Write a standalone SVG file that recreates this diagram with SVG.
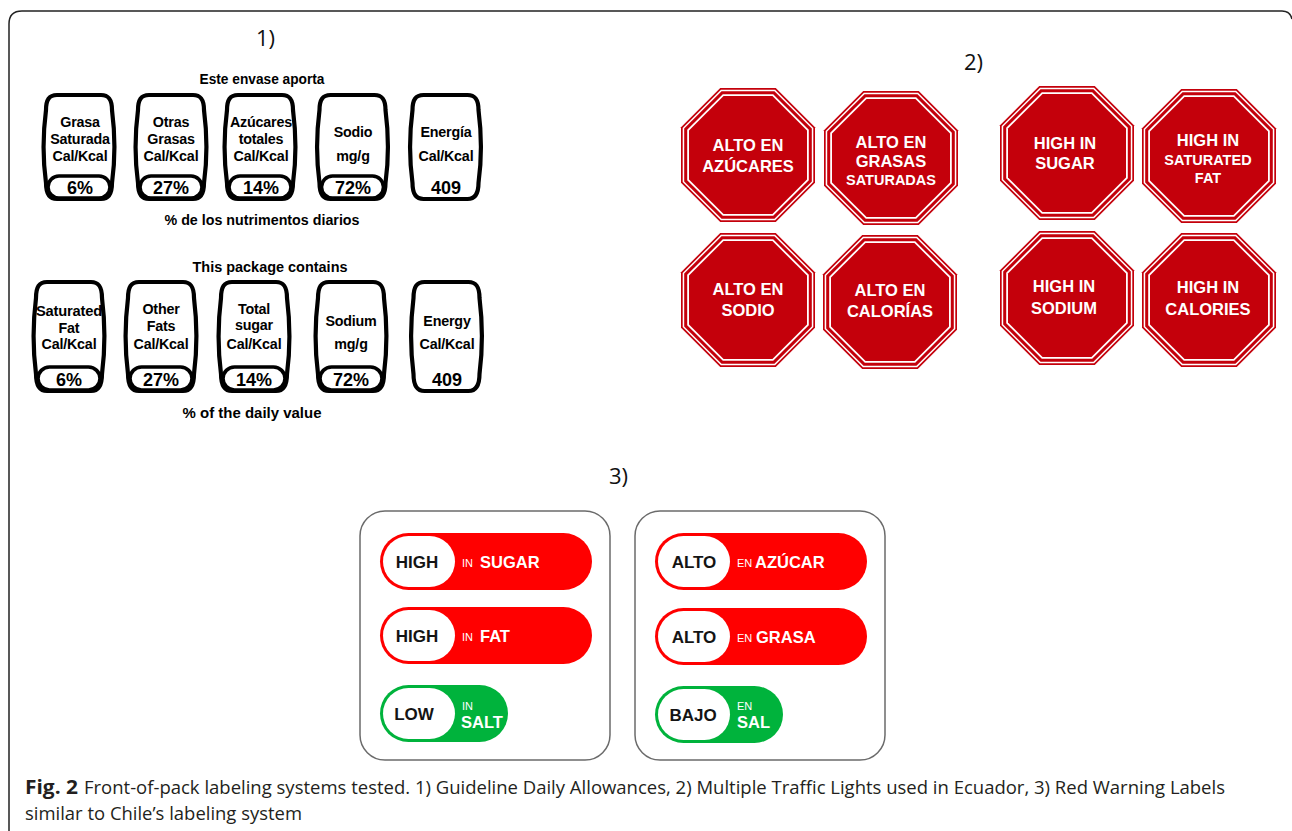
<svg xmlns="http://www.w3.org/2000/svg" xmlns:xlink="http://www.w3.org/1999/xlink" width="1292" height="831" viewBox="0 0 1292 831">
<style>
.frame{fill:none;stroke:#222;stroke-width:1.5}
.num{font-family:"Open Sans","DejaVu Sans",sans-serif;font-size:22px;fill:#111}
.bar{fill:#fff;stroke:#000;stroke-width:4.2}
.pil{fill:#fff;stroke:#000;stroke-width:3.6}
.gt{font-family:"Liberation Sans",Arial,sans-serif;font-weight:700;font-size:14.3px;letter-spacing:-0.2px;fill:#000;text-anchor:middle}
.gp{font-family:"Liberation Sans",Arial,sans-serif;font-weight:700;font-size:18px;fill:#000;text-anchor:middle}
.gh{font-family:"Liberation Sans",Arial,sans-serif;font-weight:700;font-size:15px;fill:#000;text-anchor:middle}
.ot{font-family:"Liberation Sans",Arial,sans-serif;font-weight:700;font-size:16.5px;fill:#fff;text-anchor:middle}
.os{font-family:"Liberation Sans",Arial,sans-serif;font-weight:700;font-size:14.5px;fill:#fff;text-anchor:middle}
.box{fill:#fff;stroke:#6b6b6b;stroke-width:1.5}
.red{fill:#ff0000}
.grn{fill:#00b33c}
.wp{fill:#fff}
.bk{font-family:"Liberation Sans",Arial,sans-serif;font-weight:700;font-size:17px;fill:#141414;text-anchor:middle}
.sm{font-family:"Liberation Sans",Arial,sans-serif;font-size:11px;fill:#fff}
.wb{font-family:"Liberation Sans",Arial,sans-serif;font-weight:700;font-size:16.5px;fill:#fff}
.cap{font-family:"Open Sans","DejaVu Sans",sans-serif;font-size:19px;fill:#231f20}
.capb{font-family:"Open Sans","DejaVu Sans",sans-serif;font-size:19px;font-weight:700;fill:#231f20}
</style>
<defs>
<path id="bar1" d="M -22 0 L 22 0 C 30 0 33 5 33 15 C 36 38 36 66 33 88 C 33 98 30 104 22 104 L -22 104 C -30 104 -33 98 -33 88 C -36 66 -36 38 -33 15 C -33 5 -30 0 -22 0 Z"/>
<path id="bar2" d="M -22 0 L 22 0 C 30 0 33 5 33 16 C 36 40 36 69 33 92 C 33 103 30 109 22 109 L -22 109 C -30 109 -33 103 -33 92 C -36 69 -36 40 -33 16 C -33 5 -30 0 -22 0 Z"/>
<g id="oct">
<polygon fill="#c4000b" points="-27.75,-67 27.75,-67 67,-27.75 67,27.75 27.75,67 -27.75,67 -67,27.75 -67,-27.75"/>
<polygon fill="#fff" points="-27.05,-65.3 27.05,-65.3 65.3,-27.05 65.3,27.05 27.05,65.3 -27.05,65.3 -65.3,27.05 -65.3,-27.05"/>
<polygon fill="#c4000b" points="-26.43,-63.8 26.43,-63.8 63.8,-26.43 63.8,26.43 26.43,63.8 -26.43,63.8 -63.8,26.43 -63.8,-26.43"/>
<polygon fill="#fff" points="-25.18,-60.8 25.18,-60.8 60.8,-25.18 60.8,25.18 25.18,60.8 -25.18,60.8 -60.8,25.18 -60.8,-25.18"/>
<polygon fill="#c4000b" points="-24.44,-59 24.44,-59 59,-24.44 59,24.44 24.44,59 -24.44,59 -59,24.44 -59,-24.44"/>
</g>
</defs>
<rect width="1292" height="831" fill="#fff"/>
<path class="frame" d="M 9 831 L 9 24 Q 9 11 22 11 L 1282 11 Q 1290 11 1292 19"/>

<text class="num" x="256" y="46">1)</text>
<text class="num" x="964" y="70">2)</text>
<text class="num" x="609" y="484">3)</text>

<!-- Section 1, row 1 -->
<g id="gda-es">
<text class="gh" x="262" y="84" textLength="125" lengthAdjust="spacingAndGlyphs">Este envase aporta</text>
<g id="es-grasa-sat">
<use href="#bar1" class="bar" x="79" y="95"/>
<rect class="pil" x="48" y="176" width="62" height="22" rx="11"/>
<text class="gt" x="80" y="127">Grasa</text>
<text class="gt" x="80" y="143.5">Saturada</text>
<text class="gt" x="80" y="160.5">Cal/Kcal</text>
<text class="gp" x="80" y="193.5">6%</text>
</g>
<g id="es-otras">
<use href="#bar1" class="bar" x="171" y="95"/>
<rect class="pil" x="140" y="176" width="62" height="22" rx="11"/>
<text class="gt" x="171" y="127">Otras</text>
<text class="gt" x="171" y="143.5">Grasas</text>
<text class="gt" x="171" y="160.5">Cal/Kcal</text>
<text class="gp" x="171" y="193.5">27%</text>
</g>
<g id="es-azucares">
<use href="#bar1" class="bar" x="260" y="95"/>
<rect class="pil" x="229" y="176" width="62" height="22" rx="11"/>
<text class="gt" x="261" y="126.5">Azúcares</text>
<text class="gt" x="261" y="143.5">totales</text>
<text class="gt" x="261" y="160.5">Cal/Kcal</text>
<text class="gp" x="261" y="193.5">14%</text>
</g>
<g id="es-sodio">
<use href="#bar1" class="bar" x="352.5" y="95"/>
<rect class="pil" x="321.5" y="176" width="62" height="22" rx="11"/>
<text class="gt" x="353" y="137">Sodio</text>
<text class="gt" x="353" y="160.5">mg/g</text>
<text class="gp" x="353" y="193.5">72%</text>
</g>
<g id="es-energia">
<use href="#bar1" class="bar" x="445.5" y="95"/>
<text class="gt" x="446" y="137">Energía</text>
<text class="gt" x="446" y="160.5">Cal/Kcal</text>
<text class="gp" x="446" y="193.5">409</text>
</g>
<text class="gh" x="262" y="225" textLength="195" lengthAdjust="spacingAndGlyphs">% de los nutrimentos diarios</text>
</g>

<!-- Section 1, row 2 -->
<g id="gda-en">
<text class="gh" x="270" y="272" textLength="155" lengthAdjust="spacingAndGlyphs">This package contains</text>
<g id="en-satfat">
<use href="#bar2" class="bar" x="69" y="282"/>
<rect class="pil" x="38" y="367" width="62" height="23" rx="11.5"/>
<text class="gt" x="69" y="316" textLength="66" lengthAdjust="spacingAndGlyphs">Saturated</text>
<text class="gt" x="69" y="332.5">Fat</text>
<text class="gt" x="69" y="349">Cal/Kcal</text>
<text class="gp" x="69" y="385.5">6%</text>
</g>
<g id="en-other">
<use href="#bar2" class="bar" x="161" y="282"/>
<rect class="pil" x="130" y="367" width="62" height="23" rx="11.5"/>
<text class="gt" x="161" y="313.5">Other</text>
<text class="gt" x="161" y="331">Fats</text>
<text class="gt" x="161" y="349">Cal/Kcal</text>
<text class="gp" x="161" y="385.5">27%</text>
</g>
<g id="en-sugar">
<use href="#bar2" class="bar" x="254" y="282"/>
<rect class="pil" x="223" y="367" width="62" height="23" rx="11.5"/>
<text class="gt" x="254" y="313.5">Total</text>
<text class="gt" x="254" y="330">sugar</text>
<text class="gt" x="254" y="349">Cal/Kcal</text>
<text class="gp" x="254" y="385.5">14%</text>
</g>
<g id="en-sodium">
<use href="#bar2" class="bar" x="351" y="282"/>
<rect class="pil" x="320" y="367" width="62" height="23" rx="11.5"/>
<text class="gt" x="351" y="325.5">Sodium</text>
<text class="gt" x="351" y="349">mg/g</text>
<text class="gp" x="351" y="385.5">72%</text>
</g>
<g id="en-energy">
<use href="#bar2" class="bar" x="446.5" y="282"/>
<text class="gt" x="447" y="325.5">Energy</text>
<text class="gt" x="447" y="349">Cal/Kcal</text>
<text class="gp" x="447" y="385.5">409</text>
</g>
<text class="gh" x="252" y="418" textLength="139" lengthAdjust="spacingAndGlyphs">% of the daily value</text>
</g>

<!-- Section 2: octagons -->
<g id="oct-azucares"><use href="#oct" x="748" y="155"/>
<text class="ot" x="748" y="151">ALTO EN</text><text class="ot" x="748" y="172">AZÚCARES</text></g>
<g id="oct-grasas"><use href="#oct" x="891" y="158"/>
<text class="ot" x="891" y="148">ALTO EN</text><text class="ot" x="891" y="167">GRASAS</text><text class="os" x="891" y="185">SATURADAS</text></g>
<g id="oct-sugar"><use href="#oct" x="1067" y="153"/>
<text class="ot" x="1065" y="149">HIGH IN</text><text class="ot" x="1065" y="169">SUGAR</text></g>
<g id="oct-satfat"><use href="#oct" x="1209" y="156"/>
<text class="ot" x="1208" y="146">HIGH IN</text><text class="os" x="1208" y="165">SATURATED</text><text class="os" x="1208" y="183">FAT</text></g>
<g id="oct-sodio"><use href="#oct" x="748" y="300"/>
<text class="ot" x="748" y="295">ALTO EN</text><text class="ot" x="748" y="316">SODIO</text></g>
<g id="oct-calorias"><use href="#oct" x="890" y="302"/>
<text class="ot" x="890" y="296">ALTO EN</text><text class="ot" x="890" y="317">CALORÍAS</text></g>
<g id="oct-sodium"><use href="#oct" x="1067" y="298"/>
<text class="ot" x="1064" y="292">HIGH IN</text><text class="ot" x="1064" y="314">SODIUM</text></g>
<g id="oct-calories"><use href="#oct" x="1209" y="300"/>
<text class="ot" x="1208" y="293">HIGH IN</text><text class="ot" x="1208" y="315">CALORIES</text></g>

<!-- Section 3 -->
<g id="warn-en">
<rect class="box" x="360" y="511" width="250" height="249" rx="25"/>
<g id="en-high-sugar">
<rect class="red" x="380" y="533" width="212" height="57" rx="28.5"/>
<rect class="wp" x="383" y="536" width="72" height="51" rx="25.5"/>
<text class="bk" x="417" y="567.5">HIGH</text>
<text class="sm" x="462" y="567">IN</text>
<text class="wb" x="480" y="567.5">SUGAR</text>
</g>
<g id="en-high-fat">
<rect class="red" x="380" y="607" width="212" height="57" rx="28.5"/>
<rect class="wp" x="383" y="610" width="72" height="51" rx="25.5"/>
<text class="bk" x="417" y="641.5">HIGH</text>
<text class="sm" x="462" y="641">IN</text>
<text class="wb" x="480" y="641.5">FAT</text>
</g>
<g id="en-low-salt">
<rect class="grn" x="380" y="685" width="128" height="57" rx="28.5"/>
<rect class="wp" x="383" y="688" width="72" height="51" rx="25.5"/>
<text class="bk" x="414" y="719.5">LOW</text>
<text class="sm" x="462" y="710">IN</text>
<text class="wb" x="461" y="727.5">SALT</text>
</g>
</g>
<g id="warn-es">
<rect class="box" x="635" y="511" width="250" height="249" rx="25"/>
<g id="es-alto-azucar">
<rect class="red" x="655" y="533" width="212" height="57" rx="28.5"/>
<rect class="wp" x="658" y="536" width="72" height="51" rx="25.5"/>
<text class="bk" x="694" y="567.5">ALTO</text>
<text class="sm" x="737" y="567">EN</text>
<text class="wb" x="755" y="567.5">AZÚCAR</text>
</g>
<g id="es-alto-grasa">
<rect class="red" x="655" y="608" width="212" height="57" rx="28.5"/>
<rect class="wp" x="658" y="611" width="72" height="51" rx="25.5"/>
<text class="bk" x="694" y="642.5">ALTO</text>
<text class="sm" x="737" y="642">EN</text>
<text class="wb" x="756" y="642.5">GRASA</text>
</g>
<g id="es-bajo-sal">
<rect class="grn" x="655" y="686" width="128" height="57" rx="28.5"/>
<rect class="wp" x="658" y="689" width="72" height="51" rx="25.5"/>
<text class="bk" x="693" y="720.5">BAJO</text>
<text class="sm" x="737" y="710">EN</text>
<text class="wb" x="737" y="727.5">SAL</text>
</g>
</g>

<!-- Caption -->
<text class="capb" x="25" y="794" textLength="53" lengthAdjust="spacingAndGlyphs">Fig. 2</text>
<text class="cap" x="84" y="794" textLength="1141" lengthAdjust="spacingAndGlyphs">Front-of-pack labeling systems tested. 1) Guideline Daily Allowances, 2) Multiple Traffic Lights used in Ecuador, 3) Red Warning Labels</text>
<text class="cap" x="25" y="820" textLength="277" lengthAdjust="spacingAndGlyphs">similar to Chile’s labeling system</text>
</svg>
